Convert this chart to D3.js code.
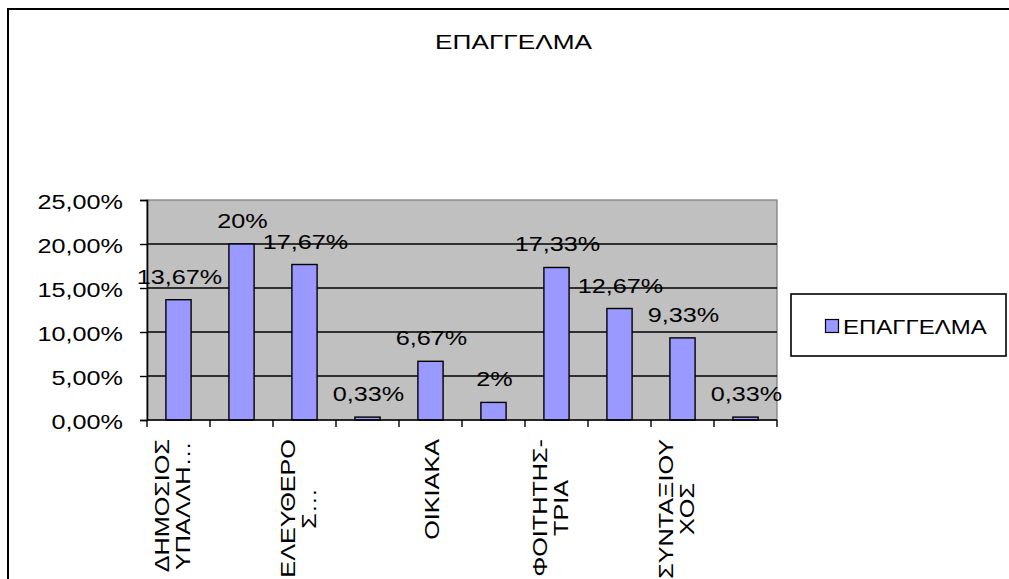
<!DOCTYPE html>
<html>
<head>
<meta charset="utf-8">
<script src="https://cdn.jsdelivr.net/npm/d3@7"></script>
<style>
  html, body { margin: 0; padding: 0; background: #fff; }
  svg { display: block; font-family: "Liberation Sans", Arial, sans-serif; }
</style>
</head>
<body>
<svg id="chart" width="1009" height="579"></svg>
<script>
// Occupation shares (percent), one bar per category
const title = "ΕΠΑΓΓΕΛΜΑ";
const seriesName = "ΕΠΑΓΓΕΛΜΑ";
// Category labels as wrapped lines; empty entries are categories whose label is skipped on the axis
const categoryLines = [
  ["ΔΗΜΟΣΙΟΣ", "ΥΠΑΛΛΗ…"],
  [],
  ["ΕΛΕΥΘΕΡΟ", "Σ…"],
  [],
  ["ΟΙΚΙΑΚΑ"],
  [],
  ["ΦΟΙΤΗΤΗΣ-", "ΤΡΙΑ"],
  [],
  ["ΣΥΝΤΑΞΙΟΥ", "ΧΟΣ"],
  []
];
const values = [13.67, 20, 17.67, 0.33, 6.67, 2, 17.33, 12.67, 9.33, 0.33];
const yTicks = [0, 5, 10, 15, 20, 25];

const svg = d3.select("#chart");
const SX = 1.2; // wide lettering along the baseline

const plot = { left: 147, right: 777, top: 200, bottom: 420 };

const x = d3.scaleBand()
  .domain(d3.range(values.length))
  .range([plot.left, plot.right])
  .paddingInner(0.6)
  .paddingOuter(0.3);

const y = d3.scaleLinear().domain([0, 25]).range([plot.bottom, plot.top]);

const pct = v => (Number.isInteger(v) ? v + "%" : v.toFixed(2).replace(".", ",") + "%");
const tickFmt = v => v.toFixed(2).replace(".", ",") + "%";

// Outer chart frame
svg.append("rect")
  .attr("x", 8).attr("y", 9)
  .attr("width", 1020).attr("height", 600)
  .attr("fill", "#fff").attr("stroke", "#000").attr("stroke-width", 2);

// Title
svg.append("text")
  .attr("transform", `translate(513.5,49) scale(${SX * 1.04},1)`)
  .attr("text-anchor", "middle")
  .attr("font-size", 21)
  .attr("fill", "#000")
  .text(title);

// Plot area background
svg.append("rect")
  .attr("x", plot.left).attr("y", plot.top)
  .attr("width", plot.right - plot.left).attr("height", plot.bottom - plot.top)
  .attr("fill", "#c0c0c0")
  .attr("stroke", "#808080").attr("stroke-width", 1.3);

// Horizontal gridlines
svg.append("g")
  .selectAll("line")
  .data(yTicks.filter(t => t > 0 && t < 25))
  .join("line")
  .attr("x1", plot.left).attr("x2", plot.right)
  .attr("y1", d => y(d)).attr("y2", d => y(d))
  .attr("stroke", "#000").attr("stroke-width", 1.4);

// Bars
svg.append("g")
  .selectAll("rect")
  .data(values)
  .join("rect")
  .attr("x", (d, i) => x(i))
  .attr("y", d => y(d))
  .attr("width", x.bandwidth())
  .attr("height", d => y(0) - y(d))
  .attr("fill", "#9999ff")
  .attr("stroke", "#000").attr("stroke-width", 1.4);

// Y axis
const yAxis = d3.axisLeft(y).tickValues(yTicks).tickSize(7).tickFormat(tickFmt);
const gy = svg.append("g").attr("transform", `translate(${plot.left},0)`).call(yAxis);
gy.select(".domain").attr("stroke", "#000").attr("stroke-width", 1.6);
gy.selectAll(".tick line").attr("stroke", "#000").attr("stroke-width", 1.4);
gy.selectAll(".tick text").remove();
gy.selectAll(".tick").append("text")
  .attr("transform", `translate(-24,8) scale(${SX},1)`)
  .attr("text-anchor", "end")
  .attr("font-size", 21)
  .attr("fill", "#000")
  .text(d => tickFmt(d));

// X axis: baseline plus ticks on category boundaries
const step = x.step();
const boundaries = d3.range(values.length + 1).map(i => plot.left + i * step);
const gx = svg.append("g");
gx.append("line")
  .attr("x1", plot.left).attr("x2", plot.right)
  .attr("y1", plot.bottom).attr("y2", plot.bottom)
  .attr("stroke", "#000").attr("stroke-width", 1.6);
gx.selectAll("line.tick")
  .data(boundaries)
  .join("line")
  .attr("class", "tick")
  .attr("x1", d => d).attr("x2", d => d)
  .attr("y1", plot.bottom).attr("y2", plot.bottom + 7)
  .attr("stroke", "#000").attr("stroke-width", 1.4);

// Rotated category labels (lines centred on each other, block hung from the axis)
const labelTop = 439;
categoryLines.forEach((lines, i) => {
  if (!lines.length) return;
  const c = x(i) + x.bandwidth() / 2;
  const offsets = lines.length === 1 ? [8] : [-10, 11];
  const g = svg.append("g");
  const texts = lines.map((ln, k) =>
    g.append("text")
      .attr("text-anchor", "middle")
      .attr("font-size", 21)
      .attr("fill", "#000")
      .text(ln)
  );
  const maxLen = d3.max(texts, t => t.node().getComputedTextLength()) * SX;
  const cy = labelTop + maxLen / 2;
  texts.forEach((t, k) => {
    t.attr("transform", `translate(${c + offsets[k]},${cy}) rotate(-90) scale(${SX},1)`);
  });
});

// Data labels above bars
svg.append("g")
  .selectAll("text")
  .data(values)
  .join("text")
  .attr("transform", (d, i) => `translate(${x(i) + x.bandwidth() / 2 + 1},${y(d) - 16}) scale(${SX},1)`)
  .attr("text-anchor", "middle")
  .attr("font-size", 21)
  .attr("fill", "#000")
  .text(d => pct(d));

// Legend
const lg = svg.append("g");
lg.append("rect")
  .attr("x", 791).attr("y", 294).attr("width", 215).attr("height", 62)
  .attr("fill", "#fff").attr("stroke", "#000").attr("stroke-width", 1.6);
lg.append("rect")
  .attr("x", 825.5).attr("y", 319.5).attr("width", 13).attr("height", 13)
  .attr("fill", "#9999ff").attr("stroke", "#000").attr("stroke-width", 1.2);
lg.append("text")
  .attr("transform", `translate(843,334) scale(${SX},1)`)
  .attr("font-size", 20)
  .attr("fill", "#000")
  .text(seriesName);
</script>
</body>
</html>
